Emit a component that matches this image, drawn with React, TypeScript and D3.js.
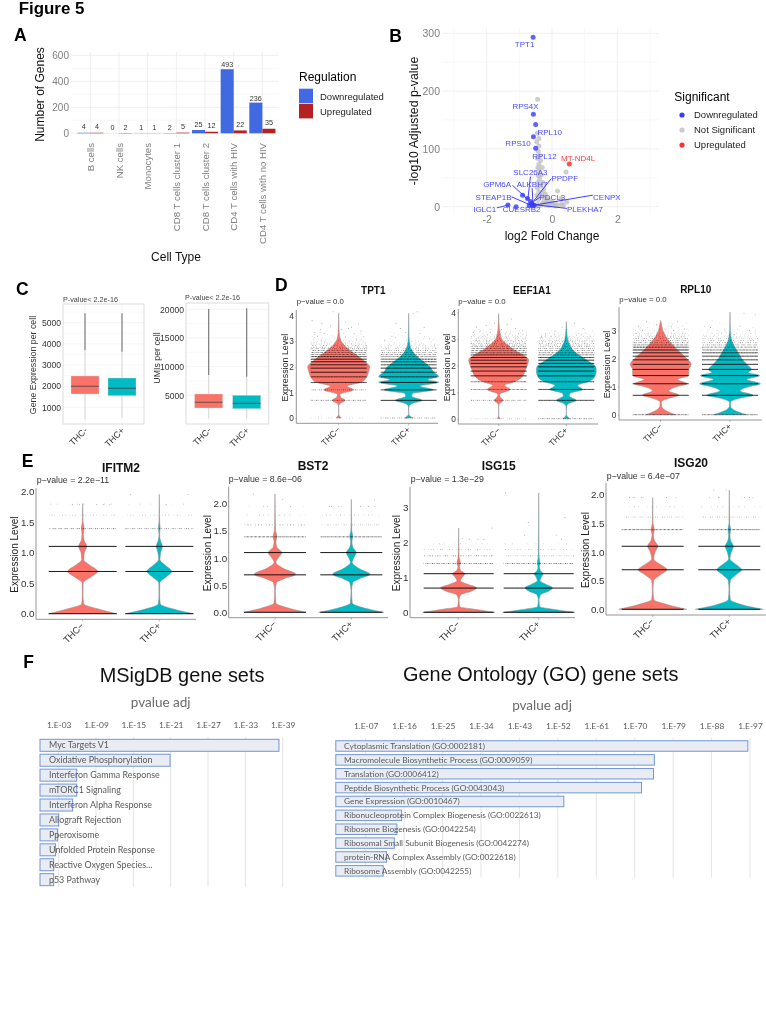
import { useEffect, useRef } from 'react';
import * as d3 from 'd3';

type Pair = [number, number];
type Sel = d3.Selection<any, any, any, any>;

// Panel A
const cellTypes = ['B cells', 'NK cells', 'Monocytes', 'CD8 T cells cluster 1', 'CD8 T cells cluster 2', 'CD4 T cells with HIV', 'CD4 T cells with no HIV'];
const downCounts = [4, 0, 1, 2, 25, 493, 236];
const upCounts = [4, 2, 1, 5, 12, 22, 35];

// Panel B, [log2 fold change, -log10 p]
const notSigPoints: Pair[] = [[-0.44, 186], [-0.45, 127], [-0.4, 118], [-0.47, 112], [-0.4, 105], [-0.42, 96], [-0.38, 88], [-0.45, 84], [-0.35, 80], [-0.4, 74], [-0.3, 68], [-0.43, 68], [-0.4, 62], [-0.33, 55], [-0.42, 54], [-0.38, 48], [-0.28, 42], [-0.43, 42], [-0.36, 36], [-0.25, 30], [-0.45, 33], [-0.4, 26], [-0.3, 24], [-0.2, 22], [-0.46, 20], [-0.33, 18], [-0.15, 15], [-0.24, 16], [-0.42, 12], [-0.1, 11], [-0.25, 9], [-0.17, 7], [0, 8], [0.1, 6], [0.17, 27], [0.43, 60], [0.28, 14], [0.45, 8], [0.3, 5], [-0.3, 5], [-0.2, 3], [-0.1, 2], [0.05, 3], [0.2, 2], [-0.45, 4], [-0.35, 2], [0.12, 1], [-0.05, 5], [0.35, 2]];
const downPoints: Pair[] = [[-0.58, 293], [-0.57, 160], [-0.5, 142], [-0.57, 121], [-0.5, 101], [-1.35, 3], [-0.9, 20], [-0.75, 14], [-0.62, 6], [-0.57, 3], [-0.66, 9], [-0.54, 2], [-0.6, 1], [-1.1, 0], [-0.7, 2]];
const upPoints: Pair[] = [[0.53, 74]];
const geneLabels: [string, number, number][] = [['TPT1', -0.84, 281], ['RPS4X', -0.81, 174], ['RPL10', -0.07, 130], ['RPS10', -1.04, 110], ['RPL12', -0.23, 88], ['SLC26A3', -0.66, 60.6], ['PPDPF', 0.39, 49], ['GPM6A', -1.68, 38.7], ['ALKBH7', -0.61, 38.7], ['STEAP1B', -1.79, 17.3], ['PDCL3', 0.01, 16.7], ['CENPX', 1.68, 17.3], ['IGLC1', -2.06, -3.5], ['CUESRB2', -0.93, -3.5], ['PLEKHA7', 1.01, -3.5]];
const geneLinks: [number, number, number, number][] = [[1.25, 20, -0.51, 3], [0.46, -3, -0.46, 3], [-1.69, -2, -1.33, 3], [-1.21, 37, -0.77, 14], [-1.24, 17, -0.66, 3], [-0.66, 52, -0.74, 12], [-0.61, 32, -0.58, 4], [-0.02, 49, -0.56, 10], [-0.36, 17, -0.56, 9]];

// Panel C, [q1, median, q3, whisker low, whisker high, outliers from, outliers to]
const geneBoxNeg = [1629, 1993, 2480, 430, 3710, 3710, 5450];
const geneBoxPos = [1548, 1898, 2385, 480, 3630, 3630, 5450];
const umiBoxNeg = [2785, 3780, 5227, 990, 8540, 8540, 20050];
const umiBoxPos = [2660, 3600, 5000, 1000, 8250, 8250, 20180];

// Panels D and E: violin outlines as [expression, relative density]
const tpt1Neg: Pair[] = [[0, 0.08], [0.16, 0], [0.45, 0], [0.55, 0.03], [0.69, 0.21], [0.82, 0.06], [0.92, 0.04], [1.1, 0.48], [1.25, 0.27], [1.4, 0.74], [1.6, 0.9], [1.8, 0.96], [2, 1], [2.2, 0.85], [2.4, 0.64], [2.6, 0.42], [2.8, 0.21], [3, 0.08], [3.2, 0.03], [3.5, 0.01], [4.1, 0]];
const tpt1Pos: Pair[] = [[0, 0.13], [0.16, 0], [0.45, 0.01], [0.55, 0.08], [0.69, 0.43], [0.85, 0.1], [0.95, 0.12], [1.1, 0.8], [1.25, 0.37], [1.4, 0.97], [1.5, 0.62], [1.62, 0.97], [1.8, 0.8], [2, 0.69], [2.2, 0.48], [2.4, 0.27], [2.6, 0.13], [2.8, 0.05], [3.2, 0.01], [4.1, 0]];
const eef1a1Neg: Pair[] = [[0, 0.05], [0.12, 0], [0.45, 0], [0.55, 0.02], [0.69, 0.15], [0.82, 0.05], [0.92, 0.03], [1.1, 0.38], [1.25, 0.2], [1.4, 0.55], [1.6, 0.8], [1.8, 0.88], [2, 0.95], [2.2, 1], [2.4, 0.8], [2.6, 0.5], [2.8, 0.27], [3, 0.1], [3.2, 0.05], [3.4, 0.02], [3.95, 0]];
const eef1a1Pos: Pair[] = [[0, 0.11], [0.18, 0], [0.45, 0.01], [0.55, 0.06], [0.69, 0.33], [0.85, 0.1], [0.95, 0.12], [1.1, 0.55], [1.25, 0.38], [1.4, 0.75], [1.6, 0.96], [1.8, 1], [1.95, 0.98], [2.1, 0.82], [2.3, 0.55], [2.5, 0.3], [2.7, 0.15], [2.9, 0.07], [3.1, 0.03], [3.65, 0]];
const rpl10Neg: Pair[] = [[0, 0.49], [0.15, 0.16], [0.3, 0.03], [0.45, 0.02], [0.6, 0.32], [0.69, 0.6], [0.85, 0.27], [1, 0.54], [1.1, 0.87], [1.25, 0.55], [1.39, 0.92], [1.6, 0.92], [1.79, 1], [2, 0.85], [2.2, 0.65], [2.4, 0.46], [2.6, 0.29], [2.8, 0.16], [3, 0.07], [3.2, 0.03], [3.35, 0]];
const rpl10Pos: Pair[] = [[0, 0.54], [0.15, 0.16], [0.3, 0.02], [0.45, 0.02], [0.6, 0.38], [0.69, 0.76], [0.85, 0.33], [1, 0.65], [1.1, 1], [1.25, 0.55], [1.39, 0.98], [1.5, 0.6], [1.6, 0.7], [1.8, 0.54], [2, 0.38], [2.2, 0.27], [2.4, 0.16], [2.6, 0.07], [2.8, 0.03], [3, 0.01], [3.65, 0]];
const ifitm2Neg: Pair[] = [[0, 1], [0.08, 0.44], [0.16, 0.03], [0.3, 0.01], [0.5, 0.015], [0.6, 0.24], [0.69, 0.44], [0.8, 0.19], [0.88, 0.03], [1, 0.05], [1.1, 0.12], [1.2, 0.04], [1.3, 0.02], [1.4, 0.04], [1.5, 0.01], [1.8, 0]];
const ifitm2Pos: Pair[] = [[0, 1], [0.08, 0.39], [0.16, 0.03], [0.3, 0.01], [0.5, 0.015], [0.6, 0.2], [0.69, 0.36], [0.8, 0.16], [0.88, 0.02], [1, 0.04], [1.1, 0.09], [1.2, 0.03], [1.3, 0.01], [1.4, 0.025], [1.5, 0.01], [1.95, 0]];
const bst2Neg: Pair[] = [[0, 1], [0.08, 0.42], [0.17, 0.03], [0.4, 0.01], [0.55, 0.05], [0.62, 0.3], [0.7, 0.67], [0.8, 0.3], [0.92, 0.03], [1, 0.1], [1.1, 0.22], [1.2, 0.06], [1.3, 0.03], [1.4, 0.06], [1.5, 0.02], [1.7, 0.01], [2.18, 0]];
const bst2Pos: Pair[] = [[0, 1.05], [0.08, 0.42], [0.17, 0.03], [0.4, 0.01], [0.55, 0.05], [0.62, 0.27], [0.7, 0.6], [0.8, 0.27], [0.92, 0.03], [1, 0.08], [1.1, 0.16], [1.2, 0.05], [1.3, 0.02], [1.4, 0.05], [1.5, 0.015], [1.7, 0.005], [2.08, 0]];
const isg15Neg: Pair[] = [[0, 1], [0.08, 0.5], [0.16, 0.03], [0.35, 0.01], [0.5, 0.06], [0.6, 0.35], [0.7, 0.5], [0.8, 0.25], [0.9, 0.05], [1, 0.1], [1.1, 0.17], [1.2, 0.05], [1.3, 0.02], [1.4, 0.05], [1.6, 0.01], [2.4, 0]];
const isg15Pos: Pair[] = [[0, 1], [0.08, 0.45], [0.16, 0.03], [0.35, 0.01], [0.5, 0.05], [0.6, 0.27], [0.7, 0.38], [0.8, 0.2], [0.9, 0.04], [1, 0.07], [1.1, 0.12], [1.2, 0.04], [1.3, 0.02], [1.39, 0.04], [1.6, 0.01], [3.4, 0]];
const isg20Neg: Pair[] = [[0, 1], [0.08, 0.44], [0.17, 0.03], [0.35, 0.01], [0.5, 0.03], [0.6, 0.22], [0.69, 0.42], [0.8, 0.18], [0.88, 0.03], [1, 0.07], [1.1, 0.15], [1.2, 0.05], [1.3, 0.02], [1.39, 0.05], [1.5, 0.01], [1.95, 0]];
const isg20Pos: Pair[] = [[0, 1], [0.08, 0.38], [0.17, 0.03], [0.35, 0.01], [0.5, 0.03], [0.6, 0.19], [0.69, 0.36], [0.8, 0.16], [0.88, 0.02], [1, 0.06], [1.1, 0.12], [1.2, 0.04], [1.3, 0.02], [1.39, 0.04], [1.5, 0.01], [2.08, 0]];

// cells sit on discrete expression levels; coverage says how full each row looks
const denseLevels = [0, 0.69, 1.1, 1.39, 1.61, 1.79, 1.95, 2.08, 2.2, 2.3, 2.4, 2.48, 2.56, 2.64, 2.71, 2.77, 2.83, 2.89, 2.94, 3.0, 3.04, 3.09, 3.14, 3.18, 3.22, 3.26, 3.3, 3.35];
const sparseLevels = [0, 0.69, 1.1, 1.39, 1.61, 1.79, 1.95];
const tpt1NegRows = [0.2, 0.55, 0.5, 0.95, 0.9, 1, 1, 1, 1, 1, 0.85, 0.7, 0.65, 0.6, 0.5, 0.36, 0.3, 0.25, 0.2, 0.15, 0.12, 0.1, 0.07, 0.05, 0.04, 0.04, 0.03, 0.02];
const tpt1PosRows = [0.45, 1, 0.95, 1, 0.92, 0.95, 1, 0.9, 0.9, 0.85, 0.7, 0.6, 0.5, 0.42, 0.32, 0.22, 0.18, 0.14, 0.1, 0.08, 0.06, 0.05, 0.04, 0.03, 0.02, 0.02, 0.02, 0.01];
const eef1a1NegRows = [0.25, 0.5, 0.7, 0.8, 1, 1, 1, 1, 1, 1, 0.88, 0.75, 0.7, 0.65, 0.55, 0.45, 0.4, 0.35, 0.3, 0.26, 0.22, 0.18, 0.15, 0.12, 0.1, 0.08, 0.06, 0.05];
const eef1a1PosRows = [0.55, 0.95, 0.95, 0.9, 1, 1, 1, 1, 1, 0.95, 0.75, 0.65, 0.55, 0.48, 0.42, 0.38, 0.35, 0.32, 0.28, 0.22, 0.18, 0.15, 0.12, 0.08, 0.06, 0.05, 0.04, 0.03];
const rpl10NegRows = [0.75, 1, 1, 1, 1, 1, 1, 1, 1, 1, 0.85, 0.7, 0.55, 0.45, 0.38, 0.3, 0.24, 0.18, 0.14, 0.11, 0.08, 0.07, 0.05, 0.04, 0.03, 0.03, 0.02, 0.01];
const rpl10PosRows = [0.75, 1, 1, 1, 1, 1, 0.95, 0.95, 0.9, 0.8, 0.65, 0.5, 0.4, 0.32, 0.26, 0.18, 0.14, 0.11, 0.09, 0.07, 0.04, 0.03, 0.02, 0.02, 0.01, 0.01, 0.01, 0.01];
const ifitm2NegRows = [1, 1, 1, 0.5, 0.2, 0.08, 0];
const ifitm2PosRows = [1, 1, 1, 0.45, 0.18, 0.05, 0.01];
const bst2NegRows = [1, 1, 1, 0.7, 0.3, 0.1, 0.04];
const bst2PosRows = [1, 1, 1, 0.7, 0.25, 0.15, 0.05];
const isg15NegRows = [1, 1, 1, 0.55, 0.4, 0.22, 0.1];
const isg15PosRows = [1, 1, 1, 0.55, 0.28, 0.18, 0.07];
const isg20NegRows = [1, 1, 1, 0.7, 0.28, 0.12, 0.05];
const isg20PosRows = [1, 1, 1, 0.7, 0.28, 0.1, 0.05];

// lone cells as [position across the jitter band -1..1, expression]
const tpt1NegDots: Pair[] = [[-0.95, 3.8], [-0.6, 3.7], [-0.3, 3.6], [0.35, 3.5], [0.7, 3.7], [-0.85, 3.35], [0.1, 3.45], [0.8, 3.4], [-0.5, 3.3], [0.55, 3.3], [-0.75, 3.2], [0.9, 3.2], [-0.2, 4.15], [-0.65, 3.45], [0.45, 3.55], [0.25, 3.75]];
const tpt1PosDots: Pair[] = [[-0.6, 3.2], [-0.3, 3.5], [0.4, 3.3], [0.75, 3.1], [-0.85, 3.05], [0.15, 4.1], [0.55, 3.55], [-0.1, 3.35], [0.3, 4.15], [-0.45, 3.7]];
const eef1a1NegDots: Pair[] = [[-0.8, 3.45], [-0.45, 3.5], [-0.15, 3.6], [0.3, 3.55], [0.6, 3.4], [0.85, 3.3], [-0.65, 3.3], [0.45, 3.75], [-0.9, 3.25], [0.1, 3.35], [0.7, 3.2], [-0.3, 3.25]];
const eef1a1PosDots: Pair[] = [[-0.75, 3.2], [-0.4, 3.3], [0.3, 3.6], [0.6, 3.4], [0.85, 3.1], [-0.15, 3.45], [-0.9, 3.05], [0.45, 3.2], [-0.55, 3.1]];
const rpl10NegDots: Pair[] = [[-0.8, 3.15], [-0.5, 3.3], [-0.15, 3.2], [0.3, 3.15], [0.6, 3.3], [0.85, 3.05], [-0.65, 3], [0.45, 3], [-0.9, 2.9], [0.15, 3.05]];
const rpl10PosDots: Pair[] = [[-0.7, 3.1], [-0.3, 2.9], [0.35, 3.15], [0.7, 3.0], [0.9, 3.55], [0.5, 3.6], [-0.85, 2.8], [0.15, 2.85]];
const ifitm2NegDots: Pair[] = [[-0.3, 1.78], [0.4, 1.78], [0.6, 1.78], [0.8, 1.78], [-0.1, 1.78]];
const ifitm2PosDots: Pair[] = [[-0.85, 1.95], [0.85, 1.95], [0.2, 1.78]];
const bst2NegDots: Pair[] = [[-0.7, 2.18], [0.25, 2.08], [0.5, 1.95], [-0.25, 1.95], [-0.5, 1.79], [0.15, 1.79]];
const bst2PosDots: Pair[] = [[0.75, 2.08], [-0.7, 1.95], [-0.4, 1.95], [0.3, 1.95], [0.55, 1.95]];
const isg15NegDots: Pair[] = [[0.95, 2.4], [0.1, 2.1], [0.3, 2.08], [0.55, 2.08], [0.72, 2.08]];
const isg15PosDots: Pair[] = [[-0.95, 3.4], [-0.3, 2.56], [0.75, 2.7], [-0.4, 2.2], [0.5, 2.2], [0.65, 2.08]];
const isg20NegDots: Pair[] = [[-0.75, 1.95], [-0.6, 1.95], [-0.35, 1.95], [0.45, 1.95]];
const isg20PosDots: Pair[] = [[-0.5, 2.08], [-0.35, 1.95], [-0.1, 2.08], [0.5, 1.95], [0.65, 1.95]];

// Panel F, exponent of the adjusted p-value
const msigTerms = ['Myc Targets V1', 'Oxidative Phosphorylation', 'Interferon Gamma Response', 'mTORC1 Signaling', 'Interferon Alpha Response', 'Allograft Rejection', 'Pperoxisome', 'Unfolded Protein Response', 'Reactive Oxygen Species...', 'p53 Pathway'];
const msigExponents = [38.4, 20.9, 5.9, 5.9, 5.25, 3, 2.8, 2.5, 2.2, 2.2];
const msigTicks = [3, 9, 15, 21, 27, 33, 39];
const goTerms = ['Cytoplasmic Translation (GO:0002181)', 'Macromolecule Biosynthetic Process (GO:0009059)', 'Translation (GO:0006412)', 'Peptide Biosynthetic Process (GO:0043043)', 'Gene Expression (GO:0010467)', 'Ribonucleoprotein Complex Biogenesis (GO:0022613)', 'Ribosome Biogenesis (GO:0042254)', 'Ribosomal Small Subunit Biogenesis (GO:0042274)', 'protein-RNA Complex Assembly (GO:0022618)', 'Ribosome Assembly (GO:0042255)'];
const goExponents = [96.5, 74.6, 74.4, 71.6, 53.4, 15.4, 14.3, 13.7, 11.9, 11.1];
const goTicks = [7, 16, 25, 34, 43, 52, 61, 70, 79, 88, 97];

const SANS = '"Liberation Sans", Arial, sans-serif';
const LATO = 'Lato, "Open Sans", sans-serif';
const RED = '#fb7268';
const TEAL = '#00bac4';
const JITTER_STEPS = [1, 1.7, 0.6, 0.9, 1.4, 0.8];

function label(g: Sel, s: string, x: number, y: number, size: number, fill = '#000', weight = 'normal', anchor = 'start', rotate = 0, family = SANS) {
  return g.append('text')
    .attr('transform', `translate(${x},${y}) rotate(${rotate})`)
    .attr('text-anchor', anchor)
    .attr('font-family', family)
    .attr('font-size', size)
    .attr('font-weight', weight)
    .attr('fill', fill)
    .text(s);
}

function hLines(g: Sel, vals: number[], y: any, x0: number, x1: number, color: string) {
  g.append('g').selectAll('line').data(vals).join('line')
    .attr('x1', x0).attr('x2', x1)
    .attr('y1', d => y(d)).attr('y2', d => y(d))
    .attr('stroke', color).attr('stroke-width', 0.7);
}

function vLines(g: Sel, vals: any[], x: any, y0: number, y1: number, color: string) {
  g.append('g').selectAll('line').data(vals).join('line')
    .attr('y1', y0).attr('y2', y1)
    .attr('x1', d => x(d)).attr('x2', d => x(d))
    .attr('stroke', color).attr('stroke-width', 0.7);
}

function styleAxis(g: Sel, size: number, color: string, family = SANS) {
  g.select('.domain').remove();
  g.selectAll('.tick line').remove();
  g.selectAll('text').attr('font-family', family).attr('font-size', size).attr('fill', color);
}

function drawBars(svg: Sel) {
  const x = d3.scaleBand<string>().domain(cellTypes).range([76, 276.7]);
  const y = d3.scaleLinear().domain([0, 600]).range([133.3, 55.3]);
  const sub = d3.scaleBand<string>().domain(['down', 'up']).range([1.3, 27.4]);
  hLines(svg, [100, 300, 500], y, 71, 279, '#f3f3f3');
  hLines(svg, [0, 200, 400, 600], y, 71, 279, '#e8e8e8');
  vLines(svg, cellTypes, (d: string) => x(d)! + x.bandwidth() / 2, 52, 137, '#e8e8e8');

  const yAxis = svg.append('g').attr('transform', 'translate(70,0)')
    .call(d3.axisLeft(y).tickValues([0, 200, 400, 600]).tickSize(0).tickPadding(1));
  styleAxis(yAxis, 10, '#808080');

  const groups: [string, number[], string][] = [['down', downCounts, '#4169e1'], ['up', upCounts, '#b22222']];
  groups.forEach(([key, values, color]) => {
    svg.append('g').selectAll('rect').data(values).join('rect')
      .attr('x', (_, i) => x(cellTypes[i])! + sub(key)!)
      .attr('width', sub.bandwidth())
      .attr('y', d => y(d))
      .attr('height', d => y(0) - y(d))
      .attr('fill', color);
    svg.append('g').selectAll('text').data(values).join('text')
      .attr('x', (_, i) => x(cellTypes[i])! + sub(key)! + sub.bandwidth() / 2)
      .attr('y', d => y(d) - (d > 100 ? 2 : 3.5))
      .attr('text-anchor', 'middle')
      .attr('font-family', SANS).attr('font-size', 7.2).attr('fill', '#333')
      .text(d => d);
  });

  cellTypes.forEach(c => {
    label(svg, c, x(c)! + x.bandwidth() / 2 + 3.5, 143, 9.6, '#808080', 'normal', 'end', -90);
  });
  label(svg, 'Number of Genes', 44, 94.5, 12, '#111', 'normal', 'middle', -90);
  label(svg, 'Cell Type', 176, 261, 12, '#111', 'normal', 'middle');

  label(svg, 'Regulation', 299, 81, 12);
  svg.append('rect').attr('x', 299).attr('y', 88.7).attr('width', 14).attr('height', 14.6).attr('fill', '#4169e1');
  svg.append('rect').attr('x', 299).attr('y', 104).attr('width', 14).attr('height', 14.4).attr('fill', '#b22222');
  label(svg, 'Downregulated', 320, 99.5, 9.5, '#222');
  label(svg, 'Upregulated', 320, 115, 9.5, '#222');
}

function drawVolcano(svg: Sel) {
  const x = d3.scaleLinear().domain([-2, 2]).range([486.7, 617.3]);
  const y = d3.scaleLinear().domain([0, 300]).range([206.7, 33.3]);
  hLines(svg, [50, 150, 250], y, 443, 659, '#f5f5f5');
  hLines(svg, [0, 100, 200, 300], y, 443, 659, '#eaeaea');
  vLines(svg, [-3, -1, 1, 3], x, 28, 213, '#f5f5f5');
  vLines(svg, [-2, 0, 2], x, 28, 213, '#eaeaea');

  const yAxis = svg.append('g').attr('transform', 'translate(441,0)')
    .call(d3.axisLeft(y).tickValues([0, 100, 200, 300]).tickSize(0).tickPadding(1));
  styleAxis(yAxis, 10.5, '#808080');
  const xAxis = svg.append('g').attr('transform', 'translate(0,215)')
    .call(d3.axisBottom(x).tickValues([-2, 0, 2]).tickSize(0).tickPadding(1).tickFormat(d => String(d)));
  styleAxis(xAxis, 10.5, '#808080');

  const dots = (pts: Pair[], color: string, op: number) => {
    svg.append('g').selectAll('circle').data(pts).join('circle')
      .attr('cx', d => x(d[0])).attr('cy', d => y(d[1])).attr('r', 2.5)
      .attr('fill', color).attr('opacity', op);
  };
  dots(notSigPoints, '#bdbdbd', 0.75);
  dots(downPoints, '#3a3aff', 0.8);
  dots(upPoints, '#ff3030', 0.85);

  svg.append('g').selectAll('line').data(geneLinks).join('line')
    .attr('x1', d => x(d[0])).attr('y1', d => y(d[1]))
    .attr('x2', d => x(d[2])).attr('y2', d => y(d[3]))
    .attr('stroke', '#2a2aff').attr('stroke-width', 0.9);
  svg.append('g').selectAll('text').data(geneLabels).join('text')
    .attr('x', d => x(d[1])).attr('y', d => y(d[2]) + 3)
    .attr('text-anchor', 'middle')
    .attr('font-family', SANS).attr('font-size', 8).attr('fill', '#4a4aff')
    .text(d => d[0]);
  label(svg, 'MT-ND4L', x(0.8), y(85) + 3, 8, '#ff3a3a', 'normal', 'middle');

  label(svg, '-log10 Adjusted p-value', 418, 121, 12.3, '#111', 'normal', 'middle', -90);
  label(svg, 'log2 Fold Change', 552, 240, 12, '#111', 'normal', 'middle');

  label(svg, 'Significant', 674.3, 100.7, 12);
  const legend: [string, string, number][] = [['Downregulated', '#3a3aff', 115], ['Not Significant', '#cccccc', 130], ['Upregulated', '#ff3030', 145]];
  legend.forEach(([s, c, py]) => {
    svg.append('circle').attr('cx', 682).attr('cy', py).attr('r', 2.6).attr('fill', c);
    label(svg, s, 694, py + 3.4, 9.5, '#222');
  });
}

function drawBox(svg: Sel, left: number, right: number, top: number, bottom: number, domain: Pair, range: Pair, ticks: number[], centers: number[], boxes: number[][], title: string, titleX: number, titleY: number, yTitle: string, yTitleX: number, yTitleY: number) {
  const y = d3.scaleLinear().domain(domain).range(range);
  const step = ticks[1] - ticks[0];
  hLines(svg, ticks.map(t => t + step / 2).filter(t => y(t) > top), y, left, right, '#f7f7f7');
  hLines(svg, ticks, y, left, right, '#f0f0f0');
  vLines(svg, centers, (d: number) => d, top, bottom, '#f0f0f0');
  svg.append('rect').attr('x', left).attr('y', top).attr('width', right - left).attr('height', bottom - top)
    .attr('fill', 'none').attr('stroke', '#dcdcdc').attr('stroke-width', 1);

  const yAxis = svg.append('g').attr('transform', `translate(${left - 1},0)`)
    .call(d3.axisLeft(y).tickValues(ticks).tickSize(0).tickPadding(1).tickFormat(d3.format('d') as any));
  styleAxis(yAxis, 8.6, '#333');

  boxes.forEach((b, i) => {
    const cx = centers[i];
    const [q1, med, q3, lo, hi, from, to] = b;
    svg.append('line').attr('x1', cx).attr('x2', cx).attr('y1', y(lo)).attr('y2', y(hi)).attr('stroke', '#d4d4d4').attr('stroke-width', 0.9);
    svg.append('line').attr('x1', cx).attr('x2', cx).attr('y1', y(from)).attr('y2', y(to)).attr('stroke', '#707070').attr('stroke-width', 1.1);
    svg.append('rect').attr('x', cx - 14).attr('width', 28).attr('y', y(q3)).attr('height', y(q1) - y(q3))
      .attr('fill', i === 0 ? RED : TEAL).attr('stroke', '#d8d8d8').attr('stroke-width', 0.4);
    svg.append('line').attr('x1', cx - 14).attr('x2', cx + 14).attr('y1', y(med)).attr('y2', y(med)).attr('stroke', '#444').attr('stroke-width', 0.8);
    label(svg, i === 0 ? 'THC-' : 'THC+', cx + 3, bottom + 7, 8.9, '#333', 'normal', 'end', -45);
  });
  label(svg, title, titleX, titleY, 7.2, '#444');
  label(svg, yTitle, yTitleX, yTitleY, 8.8, '#333', 'normal', 'middle', -90);
}

function drawRows(g: Sel, levels: number[], rows: number[], y: any, cx: number, half: number, lw: number) {
  rows.forEach((c, i) => {
    if (c <= 0) return;
    const on = c < 0.3 ? 0.5 : 0.8;
    const off = on * (1 - c) / c;
    const line = g.append('line')
      .attr('x1', cx - half).attr('x2', cx + half)
      .attr('y1', y(levels[i])).attr('y2', y(levels[i]))
      .attr('stroke', '#000')
      .attr('stroke-width', lw)
      .attr('opacity', c >= 0.85 ? 1 : 0.28 + c * 0.6);
    if (c < 1) {
      line.attr('stroke-dasharray', JITTER_STEPS.map((m, k) => (k % 2 === 0 ? on * m : off * m * 1.3).toFixed(2)).join(' '))
        .attr('stroke-dashoffset', (i * 3.7).toFixed(1));
    }
  });
}

interface ViolinSide { shape: Pair[]; rows: number[]; dots: Pair[]; }
interface ViolinPanel {
  gene: string; geneX: number; geneY: number; geneSize: number;
  pText: string; pX: number; pY: number; pSize: number;
  left: number; right: number; top: number; bottom: number;
  domain: Pair; range: Pair; ticks: number[]; fmt: string;
  centers: number[]; half: number; jitter: number; levels: number[]; lw: number; tickSize: number; tickLen: number; thcSize: number; thcDy: number;
  titleSize: number; titleGap: number;
  sides: ViolinSide[];
}

function drawViolin(svg: Sel, p: ViolinPanel) {
  const y = d3.scaleLinear().domain(p.domain).range(p.range);
  const w = d3.scaleLinear().domain([0, 1]).range([0, p.half]);
  const axisColor = '#8a8a8a';
  svg.append('path')
    .attr('d', `M${p.left},${p.top}V${p.bottom}H${p.right}`)
    .attr('fill', 'none').attr('stroke', axisColor).attr('stroke-width', 0.9);

  const yAxis = svg.append('g').attr('transform', `translate(${p.left},0)`)
    .call(d3.axisLeft(y).tickValues(p.ticks).tickSize(p.tickLen).tickPadding(1.5).tickFormat(d3.format(p.fmt) as any));
  yAxis.select('.domain').remove();
  yAxis.selectAll('.tick line').attr('stroke', axisColor).attr('stroke-width', 0.6);
  yAxis.selectAll('text').attr('font-family', SANS).attr('font-size', p.tickSize).attr('fill', '#333');

  p.sides.forEach((s, i) => {
    const cx = p.centers[i];
    const area = d3.area<Pair>()
      .curve(d3.curveMonotoneY)
      .y(d => y(d[0]))
      .x0(d => cx - w(d[1]))
      .x1(d => cx + w(d[1]));
    svg.append('path').attr('d', area(s.shape))
      .attr('fill', i === 0 ? RED : TEAL)
      .attr('stroke', '#8c8c8c').attr('stroke-width', 0.5);
    drawRows(svg, p.levels, s.rows, y, cx, p.jitter, p.lw);
    svg.append('g').selectAll('circle').data(s.dots).join('circle')
      .attr('cx', d => cx + d[0] * p.jitter)
      .attr('cy', d => y(d[1]))
      .attr('r', 0.45)
      .attr('fill', '#666');
    svg.append('line').attr('x1', cx).attr('x2', cx).attr('y1', p.bottom).attr('y2', p.bottom + 2).attr('stroke', axisColor).attr('stroke-width', 0.6);
    label(svg, i === 0 ? 'THC\u2212' : 'THC+', cx + 2, p.bottom + p.thcDy, p.thcSize, '#333', 'normal', 'end', -45);
  });

  label(svg, p.gene, p.geneX, p.geneY, p.geneSize, '#111', 'bold', 'middle');
  label(svg, p.pText, p.pX, p.pY, p.pSize, '#333');
  label(svg, 'Expression Level', p.left - p.titleGap, (p.top + p.bottom) / 2 + 1, p.titleSize, '#222', 'normal', 'middle', -90);
}

function drawGeneSets(svg: Sel, terms: string[], exps: number[], ticks: number[], xRange: Pair, xMax: number, firstRow: number, rowStep: number, barH: number, gridTop: number, gridBottom: number, textX: number, textSize: number, tickY: number, pX: number, pY: number) {
  const x = d3.scaleLinear().domain([0, xMax]).range(xRange);
  const rows = d3.scaleBand<string>().domain(terms).range([firstRow - rowStep / 2, firstRow - rowStep / 2 + rowStep * terms.length]);
  vLines(svg, ticks, x, gridTop, gridBottom, '#d9d9d9');

  const axis = svg.append('g').attr('transform', `translate(0,${tickY + 3})`)
    .call(d3.axisTop(x).tickValues(ticks).tickSize(0).tickPadding(3).tickFormat(d => `1.E-${String(d).padStart(2, '0')}`));
  styleAxis(axis, 8.4, '#595959', LATO);

  svg.append('g').selectAll('rect').data(terms).join('rect')
    .attr('x', x(0))
    .attr('y', d => rows(d)! + (rowStep - barH) / 2)
    .attr('width', (_, i) => x(exps[i]) - x(0))
    .attr('height', barH)
    .attr('fill', '#e9ecf2')
    .attr('stroke', '#7196da').attr('stroke-width', 1);
  svg.append('g').selectAll('text').data(terms).join('text')
    .attr('x', textX)
    .attr('y', d => rows(d)! + rowStep / 2 + textSize * 0.35)
    .attr('font-family', LATO).attr('font-size', textSize).attr('fill', '#5a5a5a')
    .text(d => d);
  label(svg, 'pvalue adj', pX, pY, 13.5, '#6a6a6a', 'normal', 'middle', 0, LATO);
}

export default function App() {
  const ref = useRef<SVGSVGElement>(null);

  useEffect(() => {
    if (!ref.current) return;
    const svg = d3.select(ref.current);
    svg.selectAll('*').remove();

    label(svg, 'Figure 5', 18.7, 13.5, 16.9, '#000', 'bold');
    const letters: [string, number, number][] = [['A', 14, 40.7], ['B', 389.3, 41.7], ['C', 16, 295], ['D', 275, 291], ['E', 21.7, 466.7], ['F', 23.3, 667.7]];
    letters.forEach(([s, x, y]) => label(svg, s, x, y, 17.5, '#000', 'bold'));

    drawBars(svg);
    drawVolcano(svg);

    drawBox(svg, 63, 144, 304, 424, [1000, 5000], [407.3, 322.7], [1000, 2000, 3000, 4000, 5000], [85, 122], [geneBoxNeg, geneBoxPos], 'P-value< 2.2e-16', 63, 302, 'Gene Expression per cell', 35.5, 365);
    drawBox(svg, 186, 268.7, 303, 424, [5000, 20000], [395.3, 309.3], [5000, 10000, 15000, 20000], [208.7, 246.7], [umiBoxNeg, umiBoxPos], 'P-value< 2.2e-16', 185, 299.5, 'UMIs per cell', 160.3, 358);

    const dCommon = { geneSize: 10, pSize: 7.8, fmt: 'd', half: 31, jitter: 28, levels: denseLevels, lw: 0.8, tickSize: 8.4, tickLen: 1, thcSize: 8.5, thcDy: 7, titleSize: 8.9, titleGap: 8.8 };
    const eCommon = { geneSize: 12, pSize: 8.8, levels: sparseLevels, lw: 0.9, tickSize: 9.8, tickLen: 0, thcSize: 9.4, thcDy: 7, titleSize: 10, titleGap: 18 };

    const panels: ViolinPanel[] = [
      { ...dCommon, gene: 'TPT1', geneX: 373.3, geneY: 294, pText: 'p\u2212value = 0.0', pX: 296.7, pY: 304.3, left: 296.3, right: 438, top: 310, bottom: 423.3, domain: [0, 4], range: [418, 315.7], ticks: [0, 1, 2, 3, 4], centers: [338.7, 408.7],
        sides: [{ shape: tpt1Neg, rows: tpt1NegRows, dots: tpt1NegDots }, { shape: tpt1Pos, rows: tpt1PosRows, dots: tpt1PosDots }] },
      { ...dCommon, gene: 'EEF1A1', geneX: 532, geneY: 294, pText: 'p\u2212value = 0.0', pX: 458.3, pY: 304.3, left: 458.3, right: 598, top: 309, bottom: 424, domain: [0, 4], range: [418.7, 312.3], ticks: [0, 1, 2, 3, 4], centers: [498.7, 566.3], half: 30,
        sides: [{ shape: eef1a1Neg, rows: eef1a1NegRows, dots: eef1a1NegDots }, { shape: eef1a1Pos, rows: eef1a1PosRows, dots: eef1a1PosDots }] },
      { ...dCommon, gene: 'RPL10', geneX: 695.7, geneY: 292.7, pText: 'p\u2212value = 0.0', pX: 619.3, pY: 302.3, left: 619, right: 761.7, top: 307, bottom: 420, domain: [0, 3], range: [414.7, 330.3], ticks: [0, 1, 2, 3], centers: [660.7, 730], half: 30.5,
        sides: [{ shape: rpl10Neg, rows: rpl10NegRows, dots: rpl10NegDots }, { shape: rpl10Pos, rows: rpl10PosRows, dots: rpl10PosDots }] },
      { ...eCommon, gene: 'IFITM2', geneX: 121, geneY: 471.7, pText: 'p\u2212value = 2.2e\u221211', pX: 36.7, pY: 483.3, left: 36, right: 196, top: 488, bottom: 619.3, domain: [0, 2], range: [613.7, 491.3], ticks: [0, 0.5, 1, 1.5, 2], fmt: '.1f', centers: [82.7, 159.3], half: 34, jitter: 34,
        sides: [{ shape: ifitm2Neg, rows: ifitm2NegRows, dots: ifitm2NegDots }, { shape: ifitm2Pos, rows: ifitm2PosRows, dots: ifitm2PosDots }] },
      { ...eCommon, gene: 'BST2', geneX: 313, geneY: 470, pText: 'p\u2212value = 8.6e\u221206', pX: 228.7, pY: 482, left: 228.7, right: 388, top: 486.7, bottom: 617.7, domain: [0, 2], range: [612.3, 503.7], ticks: [0, 0.5, 1, 1.5, 2], fmt: '.1f', centers: [275, 351.3], half: 31, jitter: 31,
        sides: [{ shape: bst2Neg, rows: bst2NegRows, dots: bst2NegDots }, { shape: bst2Pos, rows: bst2PosRows, dots: bst2PosDots }] },
      { ...eCommon, gene: 'ISG15', titleGap: 10.5, geneX: 498.7, geneY: 470, pText: 'p\u2212value = 1.3e\u221229', pX: 410.7, pY: 482, left: 410, right: 575, top: 486.7, bottom: 617.7, domain: [0, 3], range: [612.3, 507], ticks: [0, 1, 2, 3], fmt: 'd', centers: [458.7, 538.7], half: 36, jitter: 35,
        sides: [{ shape: isg15Neg, rows: isg15NegRows, dots: isg15NegDots }, { shape: isg15Pos, rows: isg15PosRows, dots: isg15PosDots }] },
      { ...eCommon, gene: 'ISG20', titleGap: 17.5, geneX: 691, geneY: 466.7, pText: 'p\u2212value = 6.4e\u221207', pX: 606.7, pY: 478.7, left: 606, right: 766, top: 483, bottom: 615, domain: [0, 2], range: [609.3, 494.7], ticks: [0, 0.5, 1, 1.5, 2], fmt: '.1f', centers: [652.7, 729.3], half: 34, jitter: 31,
        sides: [{ shape: isg20Neg, rows: isg20NegRows, dots: isg20NegDots }, { shape: isg20Pos, rows: isg20PosRows, dots: isg20PosDots }] },
    ];
    panels.forEach(p => drawViolin(svg, p));

    label(svg, 'MSigDB gene sets', 182, 682.3, 19.9, '#111', 'normal', 'middle');
    label(svg, 'Gene Ontology (GO) gene sets', 540.7, 681, 19.9, '#111', 'normal', 'middle');
    drawGeneSets(svg, msigTerms, msigExponents, msigTicks, [40, 282.7], 39, 745.3, 14.93, 12, 737, 886.7, 49, 8.9, 727.7, 160.7, 706.7);
    drawGeneSets(svg, goTerms, goExponents, goTicks, [335.8, 750], 97, 746, 13.87, 10.5, 738, 877.7, 344, 8.3, 729.3, 542, 710);
  }, []);

  return <svg ref={ref} width={766} height={1015} style={{ position: 'absolute', left: 0, top: 0, background: '#fff', filter: 'blur(0.3px)' }} />;
}
